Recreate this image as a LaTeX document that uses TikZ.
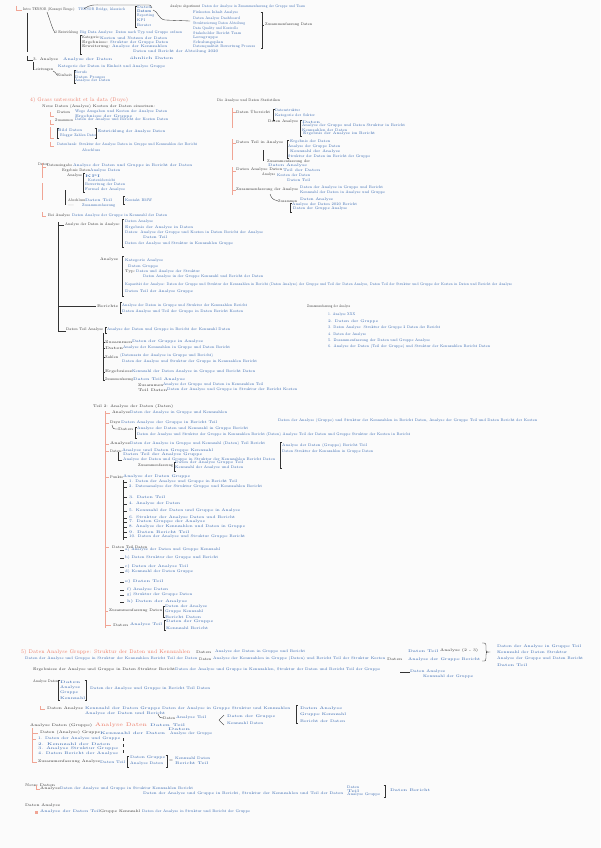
\documentclass[tikz,border=0pt]{standalone}
\usepackage{graphicx}
\definecolor{pb}{HTML}{3366B0}
\definecolor{pr}{HTML}{EB7A66}
\definecolor{prl}{HTML}{F0A595}
\definecolor{pk}{HTML}{333333}
\definecolor{bg}{HTML}{FBFBFB}
\newcounter{nid}
\newcommand\tx[5][bt]{\stepcounter{nid}\node[#1] (t\arabic{nid}) at (#2,#3) {\resizebox{#4pt}{\height}{#5}};}
\newcommand\bk[3]{\draw[kl] (#1+1.5,#2) -- (#1,#2) -- (#1,#3) -- (#1+1.5,#3);}
\newcommand\bkr[3]{\draw[kl] (#1-1.5,#2) -- (#1,#2) -- (#1,#3) -- (#1-1.5,#3);}
\newcommand\rk[2]{\draw[rl] (#1,#2-4) -- (#1,#2) -- (#1+4,#2);}
\tikzset{
  bt/.style={anchor=west,inner sep=0pt,text=pb,font=\fontsize{3.8}{4.5}\selectfont},
  kt/.style={bt,text=pk},
  rt/.style={bt,text=pr,font=\fontsize{5.2}{6}\selectfont},
  kl/.style={draw=pk,line width=0.35pt},
  rl/.style={draw=prl,line width=0.45pt},
}
\begin{document}
\begin{tikzpicture}[x=1pt,y=-1pt]
\useasboundingbox[fill=bg] (0,0) rectangle (600,848);
% ================= section 1 =================
\draw[rl] (16,6) -- (16,10) -- (22,10);
\tx[kt]{23}{10}{52}{Intro TENSOR (Konzept Bouge):}
\tx{78}{10}{47}{TENSOR Bridge, klassisch}
\draw[kl] (84,9) .. controls (90,4) and (95,5) .. (102,5) -- (146,5) .. controls (151,5) .. (152,8);
\bk{135}{6}{27}
\tx{137}{7}{14}{Daten}
\tx{137}{11}{14}{\textbf{Datum}}
\tx{137}{16}{17}{Reporting}
\tx{137}{20}{8}{KPI}
\tx{137}{25}{14}{Berater}
\draw[kl] (153,10) .. controls (158,11) and (158,19) .. (165,20) -- (190,21);
\tx[kt]{170}{7}{30}{Analyse abgestimmt}
\tx{202}{7}{103}{Daten der Analyse in Zusammenfassung der Gruppe und Team}
\tx{193}{13}{45}{Fixkosten Inhalt Analyse}
\tx{193}{19}{47}{Daten Analyse Dashboard}
\tx{193}{24}{52}{Strukturierung Daten Abteilung}
\tx{193}{29}{45}{Data Quality und Kontrolle}
\tx{193}{33}{48}{Stakeholder Bericht Team}
\tx{193}{38}{25}{Lerngruppe}
\tx{193}{43}{30}{Schulungsplan}
\tx{193}{47}{62}{Datenqualität Bewertung Prozess}
\tx{133}{52}{85}{Daten und Bericht der Abteilung 2020}
\bkr{262}{12}{48}
\draw[kl] (262,25) -- (264,25);
\tx[kt]{265}{25}{47}{Zusammenfassung Daten}
\draw[kl] (27,13) -- (27,52);
\draw[kl] (47,12) .. controls (50,20) and (52,28) .. (55,33);
\tx[kt]{55}{33}{23}{2 Entwicklung}
\tx{80}{33}{102}{Big Data Analyse: Daten nach Typ und Gruppe ordnen}
\bk{80}{35}{54}
\tx[kt]{82}{38}{18}{Kategorie:}
\tx{100}{38}{67}{Kosten und Nutzen der Daten}
\tx[kt]{82}{43}{26}{Ergebnisse:}
\tx{110}{43}{58}{Struktur der Gruppe Daten}
\tx[kt]{82}{47}{28}{Erweiterung:}
\tx{112}{47}{55}{Analyse der Kennzahlen}
\draw[kl] (27,56) -- (27,60) -- (33,60);
\tx[kt]{33}{60}{25}{3. Analyse}
\tx{63}{60}{49}{Analyse der Daten}
\tx{130}{58}{43}{ähnlich Daten}
\tx{58}{67}{107}{Kategorie der Daten in Einheit und Analyse Gruppe}
\draw[kl] (33,62) -- (33,70);
\tx[kt]{33}{70}{20}{Leistungen}
\draw[kl] (53,71) .. controls (55,72) .. (57,75);
\tx[kt]{57}{75}{15}{Einheit}
\bk{74}{70}{83}
\tx{75}{72}{12}{Berufe}
\tx{75}{77}{30}{Daten Prozess}
\tx{75}{81}{35}{Analyse der Daten}
% ================= section 2 left =================
\tx[rt]{30}{100}{98}{4) Grass untersucht et la data (Duyo)}
\tx[kt]{42}{107}{113}{Neue Daten (Analyse) Kosten der Daten einsetzen:}
\rk{50}{116}
\tx[kt]{57}{112}{13}{Daten}
\tx{75}{112}{92}{Wege Ausgaben und Kosten der Analyse Daten}
\tx{75}{117}{57}{Ergebnisse der Gruppe}
\rk{50}{124}
\tx[kt]{55}{120}{18}{Zusammen}
\tx{75}{120}{93}{Daten der Analyse und Bericht der Kosten Daten}
\draw[rl] (50,127) -- (50,138) -- (54,138);
\bk{57}{128}{138}
\tx{58}{130}{24}{Bild Daten}
\tx{60}{136}{37}{Blogger Zahlen Daten}
\bkr{96}{128}{138}
\tx{98}{132}{67}{Entwicklung der Analyse Daten}
\rk{50}{146}
\tx{57}{145}{140}{Datenbank: Struktur der Analyse Daten in Gruppe und Kennzahlen der Bericht}
\tx{82}{150}{18}{Abschluss}
\tx[kt]{38}{164}{10}{Daten}
\draw[rl] (42,166) -- (42,178);
\draw[rl] (42,183) -- (42,200);
\rk{42}{167}
\tx[kt]{47}{166}{25}{Dateneingabe}
\tx{73}{166}{119}{Analyse der Daten und Gruppe in Bericht der Daten}
\tx[kt]{62}{171}{28}{Ergebnis Daten}
\tx{90}{171}{30}{Analyse Daten}
\tx[kt]{67}{176}{15}{Analyse}
\bk{83}{173}{192}
\tx{85}{176}{15}{KPI}
\tx{88}{180}{27}{Kostenübersicht}
\tx{85}{185}{40}{Bewertung der Daten}
\tx{85}{190}{40}{Formel der Analyse}
\draw[kl] (65,190) -- (65,205);
\tx[kt]{68}{200}{17}{Abschluss}
\tx{85}{200}{27}{Daten Teil}
\bk{123}{196}{204}
\tx{125}{200}{27}{Kontakt BMW}
\tx[kt]{68}{206}{6}{--}
\tx{82}{206}{33}{Zusammenfassung}
% ================= section 2 right =================
\tx[kt]{217}{101}{63}{Die Analyse und Daten Statistiken}
\draw[rl] (232,108) -- (232,128);
\draw[rl] (232,140) -- (232,160);
\draw[rl] (232,168) -- (232,195);
\rk{232}{112}
\tx[kt]{236}{112}{34}{Daten Übersicht}
\bk{273}{109}{120}
\tx{275}{110}{25}{Datenstruktur}
\tx{275}{116}{40}{Kategorie der Sektor}
\tx[kt]{268}{122}{30}{Daten Analyse}
\bk{300}{120}{136}
\tx{302}{122}{18}{Daten}
\tx{302}{126}{103}{Analyse der Gruppe und Daten Struktur in Bericht}
\tx{302}{130}{45}{Kennzahlen der Daten}
\tx{303}{134}{72}{Ergebnis der Analyse im Bericht}
\rk{232}{143}
\tx[kt]{236}{143}{47}{Daten Teil in Analyse}
\bk{287}{140}{158}
\tx{290}{142}{40}{Ergebnis der Daten}
\tx{288}{147}{52}{Analyse der Gruppe Daten}
\tx{290}{152}{50}{Kennzahl der Analyse}
\tx{288}{157}{82}{Struktur der Daten im Bericht der Gruppe}
\draw[kl] (263,150) -- (263,161);
\tx[kt]{267}{162}{43}{Zusammenfassung der}
\tx{268}{166}{39}{Daten Analyse}
\rk{232}{171}
\tx[kt]{236}{170}{46}{Daten Analyse Daten}
\tx{283}{170}{37}{Teil der Daten}
\tx[kt]{262}{175}{13}{Analyse}
\tx{277}{175}{33}{Kosten der Daten}
\tx{287}{180}{23}{Daten Teil}
\rk{232}{190}
\tx[kt]{236}{190}{62}{Zusammenfassung der Analyse}
\tx{300}{188}{83}{Daten der Analyse in Gruppe und Bericht}
\tx{300}{193}{85}{Kennzahl der Daten in Analyse und Gruppe}
\draw[kl] (270,194) .. controls (272,199) .. (278,201);
\tx[kt]{278}{201}{19}{Zusammen}
\tx{300}{200}{33}{Daten Analyse}
\bk{290}{203}{212}
\tx{292}{205}{65}{Analyse der Daten 2020 Bericht}
\tx{293}{209}{54}{Daten der Gruppe Analyse}
% ================= section 3 =================
\rk{42}{216}
\tx[kt]{48}{216}{22}{Bei Analyse}
\tx{72}{216}{95}{Daten Analyse der Gruppe in Kennzahl der Daten}
\draw[kl] (58,222) -- (58,331) -- (66,331);
\draw[kl] (58,225) -- (64,225);
\tx[kt]{65}{225}{55}{Analyse der Daten in Analyse:}
\bk{122}{219}{247}
\tx{125}{222}{28}{Daten Analyse}
\tx{125}{228}{68}{Ergebnis der Analyse in Daten}
\tx{125}{233}{138}{Daten: Analyse der Gruppe und Kosten in Daten Bericht der Analyse}
\tx{143}{237}{24}{Daten Teil}
\tx{125}{244}{108}{Daten der Analyse und Struktur in Kennzahlen Gruppe}
\tx[kt]{100}{260}{18}{Analyse}
\bk{122}{256}{296}
\tx{125}{261}{38}{Kategorie Analyse}
\tx{128}{267}{30}{Daten Gruppe}
\tx[kt]{125}{272}{10}{Typ:}
\tx{136}{272}{64}{Daten und Analyse der Struktur}
\tx{143}{277}{120}{Daten Analyse in der Gruppe Kennzahl und Bericht der Daten}
\tx{125}{285}{387}{Kapazität der Analyse: Daten der Gruppe und Struktur der Kennzahlen in Bericht (Daten Analyse) der Gruppe und Teil der Daten Analyse, Daten Teil der Struktur und Gruppe der Kosten in Daten und Bericht der Analyse}
\tx{125}{292}{68}{Daten Teil der Analyse Gruppe}
\draw[kl] (58,306) -- (96,306);
\tx[kt]{97}{306}{21}{Berichte}
\bk{120}{302}{313}
\tx{122}{306}{125}{Analyse der Daten in Gruppe und Struktur der Kennzahlen Bericht}
\tx{122}{312}{121}{Daten Analyse und Teil der Gruppe in Daten Bericht Kosten}
\tx[kt]{66}{330}{37}{Daten Teil Analyse}
\bk{105}{327}{333}
\tx{107}{330}{123}{Analyse der Daten und Gruppe in Bericht der Kennzahl Daten}
\draw[kl] (103,333) -- (103,381);
\draw[kl] (103,342) -- (105,342);
\tx[kt]{105}{342}{27}{Zusammen}
\tx{132}{342}{71}{Daten der Gruppe in Analyse}
\draw[kl] (103,348) -- (105,348);
\tx[kt]{105}{348}{18}{Daten}
\tx{123}{348}{107}{Analyse der Kennzahlen in Gruppe und Daten Bericht}
\draw[kl] (103,357) -- (105,357);
\tx[kt]{105}{357}{13}{Zahlen}
\tx{120}{356}{93}{(Datensatz der Analyse in Gruppe und Bericht)}
\tx{122}{362}{135}{Daten der Analyse und Struktur der Gruppe in Kennzahlen Bericht}
\draw[kl] (103,372) -- (105,372);
\tx[kt]{105}{372}{27}{Ergebnisse}
\tx{132}{372}{123}{Kennzahl der Daten Analyse in Gruppe und Bericht Daten}
\draw[kl] (103,380) -- (105,380);
\tx[kt]{105}{380}{28}{Zusammenfassung}
\tx{133}{380}{52}{Daten Teil Analyse}
\tx[kt]{138}{385}{25}{Zusammen}
\tx{163}{385}{100}{Analyse der Gruppe und Daten in Kennzahlen Teil}
\tx[kt]{138}{390}{29}{Teil Daten}
\tx{167}{390}{130}{Daten der Analyse und Gruppe in Struktur der Bericht Kosten}
\tx[kt]{307}{307}{43}{Zusammenfassung der Analyse}
\tx{328}{315}{27}{1. Analyse XXX}
\tx{328}{322}{50}{2. Daten der Gruppe}
\tx{328}{328}{112}{3. Daten Analyse: Struktur der Gruppe 2 Daten der Bericht}
\tx{328}{335}{38}{4. Daten der Analyse}
\tx{328}{341}{102}{5. Zusammenfassung der Daten und Gruppe Analyse}
\tx{328}{347}{162}{6. Analyse der Daten (Teil der Gruppe) und Struktur der Kennzahlen Bericht Daten}
% ================= section 4 =================
\tx[kt]{93}{407}{80}{Teil 2: Analyse der Daten (Daten)}
\draw[rl] (105,411) -- (105,628);
\draw[rl] (105,413) -- (110,413);
\tx[kt]{112}{413}{18}{Analyse}
\tx{130}{413}{97}{Daten der Analyse in Gruppe und Kennzahlen}
\draw[rl] (105,423) -- (109,423);
\tx[kt]{110}{423}{10}{Dzyz}
\tx{121}{423}{96}{Daten Analyse der Gruppe in Bericht Teil}
\tx{278}{421}{259}{Daten der Analyse (Gruppe) und Struktur der Kennzahlen in Bericht Daten, Analyse der Gruppe Teil und Daten Bericht der Kosten}
\draw[kl] (112,425) .. controls (113,429) .. (118,429);
\tx[kt]{118}{429}{15}{Daten}
\bk{135}{427}{438}
\tx{137}{429}{111}{Analyse der Daten und Kennzahl in Gruppe Bericht}
\tx{137}{435}{273}{Daten der Analyse und Struktur der Gruppe in Kennzahlen Bericht (Daten) Analyse Teil der Daten und Gruppe Struktur der Kosten in Bericht}
\draw[rl] (105,444) -- (109,444);
\tx[kt]{110}{444}{20}{Analyse}
\tx{130}{444}{135}{Daten der Analyse in Gruppe und Kennzahl (Daten) Teil Bericht}
\bk{280}{442}{468}
\tx{282}{446}{85}{Analyse der Daten (Gruppe) Bericht Teil}
\tx{282}{452}{91}{Daten Struktur der Kennzahlen in Gruppe Daten}
\draw[rl] (105,451) -- (109,451);
\tx[kt]{110}{451}{12}{Daten:}
\tx{122}{451}{91}{Analyse und Daten Gruppe Kennzahl}
\draw[kl] (118,452) -- (118,460) -- (122,460);
\tx{123}{455}{79}{Daten Teil der Analyse Gruppe}
\tx{123}{460}{152}{Analyse der Daten und Gruppe in Struktur der Kennzahlen Bericht Daten}
\tx[kt]{138}{466}{35}{Zusammenfassung}
\bk{174}{462}{471}
\tx{175}{463}{68}{Daten der Analyse Gruppe Teil}
\tx{175}{468}{68}{Kennzahl der Analyse und Daten}
\draw[rl] (105,477) -- (109,477);
\tx[kt]{110}{477}{13}{Punkte}
\tx{123}{477}{67}{Analyse der Daten Gruppe}
\draw[kl] (123,480) -- (123,540);
\foreach \yy in {482,487,497,504,511,518,522,527,532,537} {\draw[kl] (123,\yy) -- (127,\yy);}
\tx{129}{482}{108}{1. Daten der Analyse und Gruppe in Bericht Teil}
\tx{129}{487}{133}{2. Datenanalyse der Struktur Gruppe und Kennzahlen Bericht}
\tx{129}{497}{36}{3. Daten Teil}
\tx{129}{504}{51}{4. Analyse der Daten}
\tx{129}{511}{111}{5. Kennzahl der Daten und Gruppe in Analyse}
\tx{129}{518}{106}{6. Struktur der Analyse Daten und Bericht}
\tx{129}{522}{76}{7. Daten Gruppe der Analyse}
\tx{129}{527}{116}{8. Analyse der Kennzahlen und Daten in Gruppe}
\tx{129}{532}{60}{9. Daten Bericht Teil}
\tx{129}{537}{116}{10. Daten der Analyse und Struktur Gruppe Bericht}
\draw[rl] (105,547) -- (109,547);
\tx[kt]{112}{547}{35}{Daten Teil Daten}
\foreach \yy in {550,558,567,572,582,590,595,602} {\draw[kl] (120,\yy) -- (124,\yy);}
\tx{125}{550}{95}{a) Analyse der Daten und Gruppe Kennzahl}
\tx{125}{558}{93}{b) Daten Struktur der Gruppe und Bericht}
\tx{125}{567}{63}{c) Daten der Analyse Teil}
\tx{125}{572}{68}{d) Kennzahl der Daten Gruppe}
\tx{125}{582}{38}{e) Daten Teil}
\tx{127}{590}{41}{f) Analyse Daten}
\tx{127}{595}{65}{g) Struktur der Gruppe Daten}
\tx{127}{602}{60}{h) Daten der Analyse}
\draw[rl] (105,611) -- (108,611);
\tx[kt]{109}{611}{53}{Zusammenfassung Daten}
\bk{163}{606}{617}
\tx{165}{607}{42}{Daten der Analyse}
\tx{165}{612}{38}{Gruppe Kennzahl}
\tx{165}{617}{36}{Bericht Daten}
\draw[rl] (105,625) -- (111,625);
\tx[kt]{113}{625}{15}{Daten}
\tx{130}{625}{32}{Analyse Teil}
\bk{164}{620}{630}
\tx{166}{622}{47}{Daten der Gruppe}
\tx{166}{628}{42}{Kennzahl Bericht}
% ================= section 5 =================
\tx[rt]{21}{652}{169}{5) Daten Analyse Gruppe: Struktur der Daten und Kennzahlen}
\tx[kt]{196}{652}{15}{Daten}
\tx{215}{652}{90}{Analyse der Daten in Gruppe und Bericht}
\tx{25}{659}{172}{Daten der Analyse und Gruppe in Struktur der Kennzahlen Bericht Teil der Daten}
\tx[kt]{199}{659}{12}{Daten}
\tx{213}{659}{172}{Analyse der Kennzahlen in Gruppe (Daten) und Bericht Teil der Struktur Kosten}
\tx[kt]{387}{659}{15}{Daten}
\tx{408}{660}{72}{Analyse der Gruppe Bericht}
\tx{408}{651}{30}{Daten Teil}
\tx[kt]{440}{651}{38}{Analyse (2 - 3)}
\draw[kl] (482,643) .. controls (486,643) .. (486,648) -- (486,650) .. controls (486,652) .. (489,652) .. controls (486,652) .. (486,655) -- (486,658) .. controls (486,661) .. (482,661);
\tx{497}{647}{84}{Daten der Analyse in Gruppe Teil}
\tx{497}{652}{70}{Kennzahl der Daten Struktur}
\tx{497}{659}{86}{Analyse der Gruppe und Daten Bericht}
\tx{497}{665}{30}{Daten Teil}
\tx[kt]{33}{670}{142}{Ergebnisse der Analyse und Gruppe in Daten Struktur Bericht}
\tx{175}{670}{205}{Daten der Analyse und Gruppe in Kennzahlen, Struktur der Daten und Bericht Teil der Gruppe}
\draw[kl] (400,672) -- (410,672);
\tx{410}{672}{35}{Daten Analyse}
\tx{423}{677}{50}{Kennzahl der Gruppe}
% ================= section 6 =================
\tx[kt]{33}{682}{25}{Analyse Daten}
\bk{58}{680}{700}
\tx{60}{682}{20}{Daten}
\tx{60}{688}{20}{Analyse}
\tx{60}{693}{18}{Gruppe}
\tx{60}{698}{25}{Kennzahl}
\bkr{86}{680}{700}
\tx{90}{689}{120}{Daten der Analyse und Gruppe in Bericht Teil Daten}
\draw[rl] (40,706) -- (40,709) -- (45,709);
\tx[kt]{47}{709}{36}{Daten Analyse}
\tx{85}{709}{75}{Kennzahl der Daten Gruppe}
\tx{85}{714}{80}{Analyse der Daten und Bericht}
\tx{162}{709}{128}{Daten der Analyse in Gruppe Struktur und Kennzahlen}
\draw[kl] (158,714) .. controls (160,718) .. (163,718);
\tx[kt]{163}{718}{12}{Daten}
\tx{176}{718}{30}{Analyse Teil}
\draw[kl] (224,715) -- (219,720) -- (224,725);
\tx{227}{717}{48}{Daten der Gruppe}
\tx{227}{723}{36}{Kennzahl Daten}
\bk{296}{705}{723}
\tx{300}{709}{42}{Daten Analyse}
\tx{300}{715}{46}{Gruppe Kennzahl}
\tx{300}{721}{45}{Bericht der Daten}
\tx[kt]{30}{726}{62}{Analyse Daten (Gruppe)}
\tx[rt]{95}{725}{52}{Analyse Daten}
\tx{150}{725}{35}{Daten Teil}
\draw[rl] (32,728) -- (32,762) -- (37,762);
\draw[rl] (32,733) -- (38,733);
\tx[kt]{40}{733}{60}{Daten (Analyse) Gruppe}
\tx{100}{733}{65}{Kennzahl der Daten}
\tx{168}{729}{22}{Daten}
\tx{170}{734}{42}{Analyse der Gruppe}
\draw[rl] (32,739) -- (36,739);
\tx{38}{739}{82}{1. Daten der Analyse und Gruppe}
\tx{38}{744}{72}{2. Kennzahl der Daten}
\tx{38}{749}{80}{3. Analyse Struktur Gruppe}
\tx{38}{754}{80}{4. Daten Bericht der Analyse}
\draw[kl,dashed] (123,738) -- (123,755);
\tx[kt]{38}{762}{62}{Zusammenfassung Analyse}
\tx{100}{762}{25}{Daten Teil}
\bk{127}{756}{767}
\tx{130}{758}{35}{Daten Gruppe}
\tx{130}{764}{33}{Analyse Daten}
\bkr{167}{755}{767}
\tx[kt]{169}{761}{4}{=}
\tx{175}{758}{35}{Kennzahl Daten}
\tx{175}{763}{33}{Bericht Teil}
% ================= section 7 =================
\tx[kt]{25}{785}{30}{Neue Daten}
\rk{36}{789}
\tx[kt]{40}{789}{20}{Analyse}
\tx{60}{789}{133}{Daten der Analyse und Gruppe in Struktur Kennzahlen Bericht}
\tx{143}{794}{200}{Daten der Analyse und Gruppe in Bericht, Struktur der Kennzahlen und Teil der Daten}
\tx{347}{787}{12}{Daten}
\tx{347}{791}{12}{Teil}
\tx{347}{795}{33}{Analyse Gruppe}
\bkr{385}{785}{797}
\tx{390}{790}{40}{Daten Bericht}
\tx[kt]{25}{806}{35}{Daten Analyse}
\draw[rl,fill=prl] (35,811) rectangle (37.5,813.5);
\tx{40}{812}{60}{Analyse der Daten Teil}
\tx[kt]{100}{812}{40}{Gruppe Kennzahl}
\tx{142}{812}{108}{Daten der Analyse in Struktur und Bericht der Gruppe}
\end{tikzpicture}
\end{document}
